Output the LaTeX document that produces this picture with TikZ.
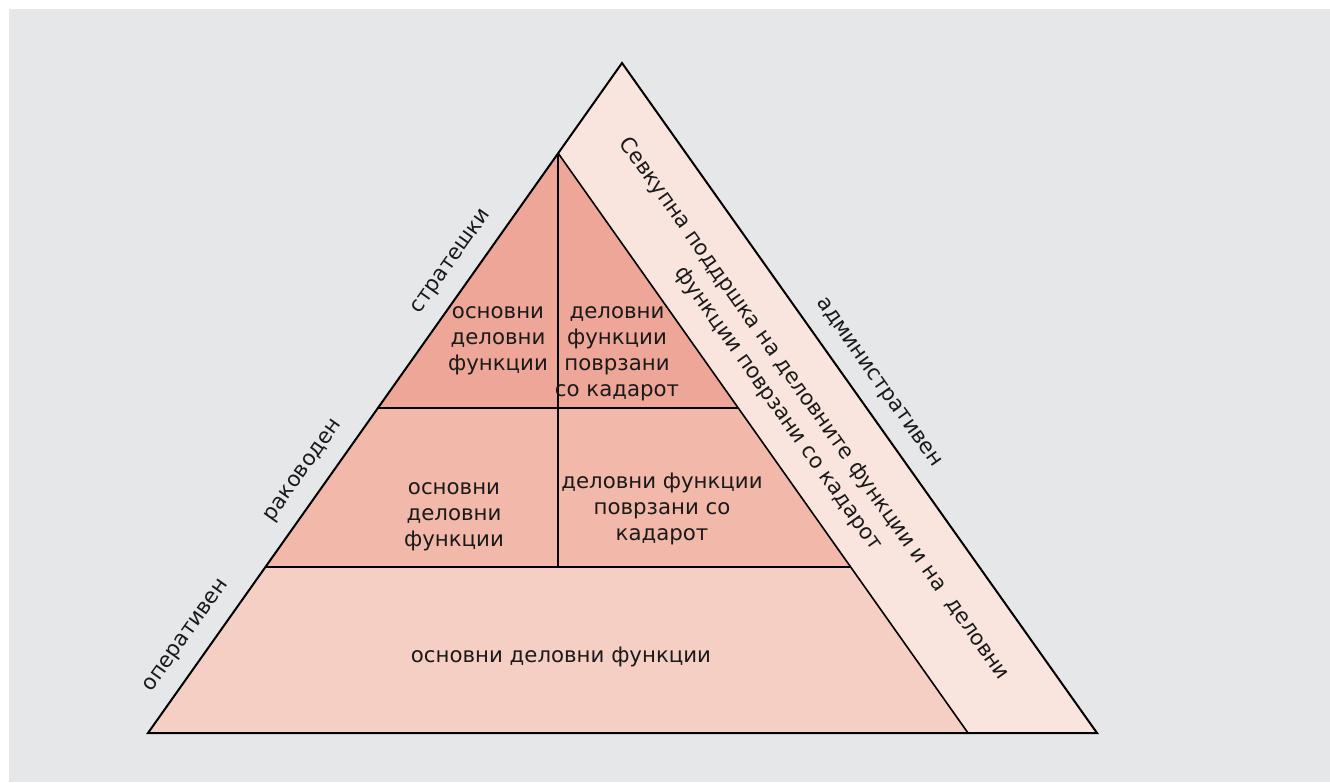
\documentclass[tikz,border=0pt]{standalone}
\usepackage{fontspec}
\setmainfont{DejaVu Sans}
\usetikzlibrary{calc}
\definecolor{bggray}{HTML}{E6E7E9}
\definecolor{tiertop}{HTML}{EDA697}
\definecolor{tiermid}{HTML}{F2B8AA}
\definecolor{tierlow}{HTML}{F5CFC3}
\definecolor{stripcol}{HTML}{F9E5DD}
\definecolor{inkcol}{HTML}{1A1A1A}
\tikzset{
  outline/.style={draw=black, line width=2pt, line join=miter},
  sep/.style={draw=black, line width=1.6pt},
  celltext/.style={text=inkcol, align=center, inner sep=0pt, font=\fontsize{21.3}{26}\selectfont},
  sidelabel/.style={text=inkcol, inner sep=0pt, font=\fontsize{21.3}{26}\selectfont},
}
\begin{document}
\begin{tikzpicture}[x=1pt,y=-1pt]
\useasboundingbox (0,0) rectangle (1330,782);
\fill[bggray] (9,9) rectangle (1330,782);
% key points
\coordinate (apex) at (622,63);
\coordinate (bl) at (148,733);
\coordinate (br) at (1097,733);
\coordinate (ia) at (558,153);
\coordinate (ir) at (968,733);
\coordinate (l1) at ($(ia)!0.4397!(bl)$);
\coordinate (r1) at ($(ia)!0.4397!(ir)$);
\coordinate (l2) at ($(ia)!0.7138!(bl)$);
\coordinate (r2) at ($(ia)!0.7138!(ir)$);
\coordinate (v1) at (ia |- l1);
\coordinate (v2) at (ia |- l2);
% fills
\fill[stripcol] (apex) -- (br) -- (ir) -- (ia) -- cycle;
\fill[tiertop] (ia) -- (r1) -- (l1) -- cycle;
\fill[tiermid] (l1) -- (r1) -- (r2) -- (l2) -- cycle;
\fill[tierlow] (l2) -- (r2) -- (ir) -- (bl) -- cycle;
% lines
\draw[sep] (ia) -- (ir);
\draw[sep] (l1) -- (r1);
\draw[sep] (l2) -- (r2);
\draw[sep] (ia) -- (v2);
\draw[outline] (apex) -- (br) -- (bl) -- cycle;
% cell texts
\node[celltext] (c1) at (498,341) {основни\\деловни\\функции};
\node[celltext] (c2) at (617,354) {деловни\\функции\\поврзани\\со кадарот};
\node[celltext] (c3) at (454,517) {основни\\деловни\\функции};
\node[celltext] (c4) at (662,509) {деловни функции\\поврзани со\\кадарот};
\node[celltext] (c5) at (561,657) {основни деловни функции};
\node[celltext, rotate=-54.7] (c6a) at (814,409) {Севкупна поддршка на деловните функции и на\ \ деловни};
\node[celltext, rotate=-54.7] (c6b) at (778,409) {функции поврзани со кадарот};
% side labels
\node[sidelabel, rotate=54.7] (s1) at (452,262) {стратешки};
\node[sidelabel, rotate=54.7] (s2) at (304,471) {раководен};
\node[sidelabel, rotate=54.7] (s3) at (187,636) {оперативен};
\node[sidelabel, rotate=-54.7] (s4) at (878,383) {административен};
\end{tikzpicture}
\end{document}
